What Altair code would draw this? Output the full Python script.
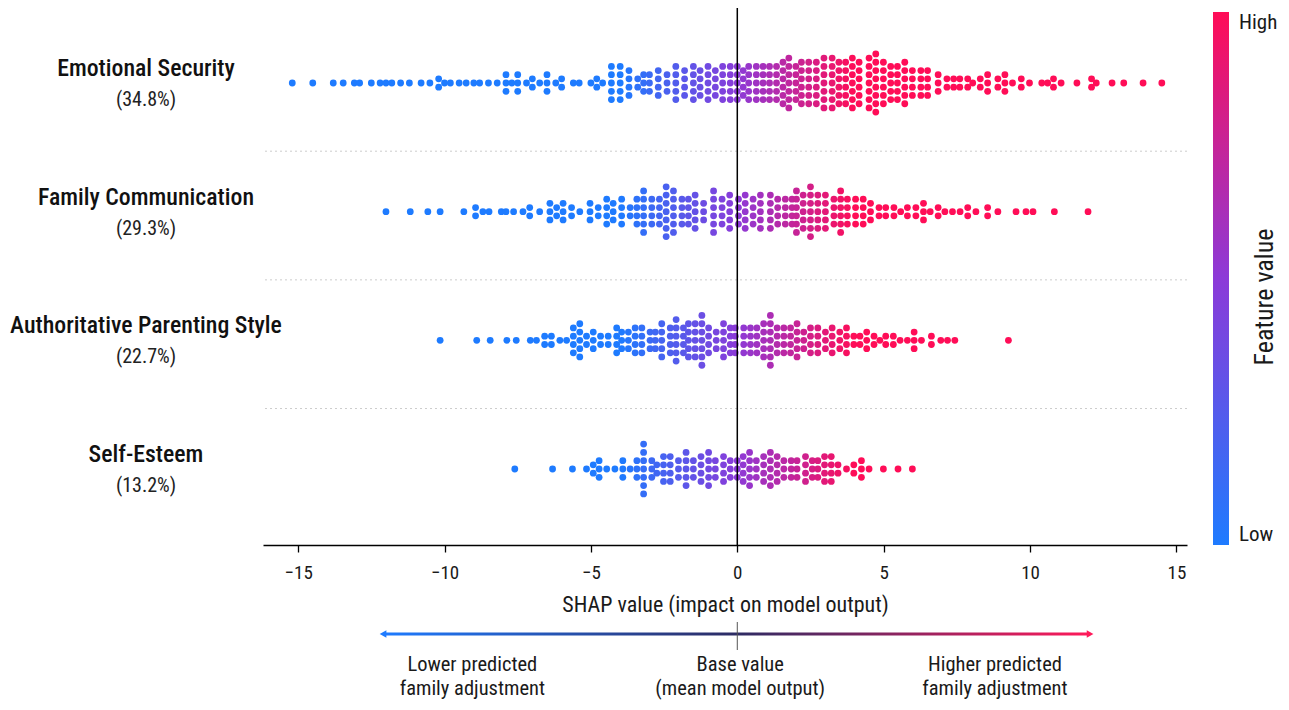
import altair as alt
import pandas as pd

# ---------------- data ----------------
FEATURES = ["Emotional Security", "Family Communication",
            "Authoritative Parenting Style", "Self-Esteem"]
SHARES = ["(34.8%)", "(29.3%)", "(22.7%)", "(13.2%)"]

# SHAP value of each dot column and number of dots stacked in it
ES_X = [-15.2, -14.5, -13.8, -13.46, -13.08, -12.9, -12.5, -12.2, -12.0, -11.8, -11.5, -11.2,
        -10.8, -10.5, -10.2, -10.0, -9.8, -9.5, -9.26, -9.0, -8.8, -8.5, -8.2, -7.9, -7.7, -7.5,
        -7.2, -7.0, -6.75, -6.5, -6.2, -6.0, -5.6, -5.4, -5.0, -4.8, -4.6, -4.3, -4.0, -3.7,
        -3.4, -3.2, -3.0, -2.7, -2.4, -2.1, -1.8, -1.5, -1.27, -1.0, -0.75, -0.5, -0.24,
        0.0, 0.2, 0.39, 0.65, 0.88, 1.1, 1.34, 1.56, 1.76, 2.0, 2.19, 2.44, 2.7, 2.96, 3.24,
        3.47, 3.7, 3.93, 4.16, 4.5, 4.73, 4.99, 5.24, 5.47, 5.72, 5.98, 6.27, 6.5, 6.86, 7.16,
        7.39, 7.6, 7.87, 8.04, 8.3, 8.55, 8.9, 9.14, 9.4, 9.7, 9.98, 10.4, 10.6, 10.8, 11.06,
        11.6, 12.1, 12.26, 12.8, 13.2, 13.86, 14.5]
ES_N = [1, 1, 1, 1, 1, 1, 1, 1, 1, 1, 1, 1,
        1, 1, 2, 1, 1, 1, 1, 1, 1, 1, 1, 3, 1, 3,
        1, 2, 1, 3, 1, 2, 1, 1, 1, 2, 1, 5, 5, 4,
        2, 3, 3, 4, 3, 5, 4, 5, 4, 5, 4, 5, 5,
        5, 4, 5, 5, 5, 5, 5, 6, 7, 5, 6, 6, 6, 7, 7,
        6, 6, 7, 6, 7, 8, 6, 5, 5, 6, 4, 4, 4, 3, 2,
        2, 2, 2, 1, 2, 3, 2, 3, 1, 2, 1, 1, 1, 2, 1,
        1, 2, 1, 1, 1, 1, 1]

FC_X = [-12.0, -11.17, -10.57, -10.15, -9.34, -8.94, -8.69, -8.48, -8.06, -7.9, -7.64, -7.32,
        -7.09, -6.75, -6.4, -6.17, -5.95, -5.66, -5.38, -5.03, -4.75, -4.46, -4.24, -3.95,
        -3.66, -3.43, -3.2, -2.92, -2.66, -2.43, -2.18, -1.89, -1.67, -1.44, -1.15, -0.81,
        -0.52, -0.26, 0.04, 0.27, 0.54, 0.79, 1.13, 1.38, 1.64, 1.87, 2.02, 2.25, 2.5, 2.75,
        3.01, 3.3, 3.53, 3.76, 4.04, 4.3, 4.55, 4.84, 5.07, 5.35, 5.58, 5.81, 6.1, 6.36, 6.59,
        6.86, 7.09, 7.35, 7.61, 7.87, 8.15, 8.55, 8.9, 9.52, 9.86, 10.1, 10.83, 11.98]
FC_N = [1, 1, 1, 1, 1, 2, 1, 1, 1, 1, 1, 1,
        2, 1, 3, 2, 3, 2, 1, 3, 2, 4, 3, 4,
        2, 4, 6, 4, 4, 7, 6, 4, 4, 5, 3, 6,
        4, 5, 4, 5, 4, 5, 5, 4, 4, 4, 6, 5, 7, 5,
        5, 4, 6, 4, 4, 4, 3, 2, 2, 2, 1, 2, 2, 3, 1,
        2, 1, 1, 1, 2, 1, 2, 1, 1, 1, 1, 1, 1]

AP_X = [-10.15, -8.9, -8.44, -7.87, -7.55, -7.07, -6.86, -6.58, -6.35, -6.06, -5.83, -5.6,
        -5.38, -5.15, -4.92, -4.67, -4.41, -4.12, -3.95, -3.72, -3.49, -3.26, -2.98, -2.8,
        -2.58, -2.29, -2.09, -1.84, -1.67, -1.44, -1.21, -0.98, -0.72, -0.47, -0.24, -0.07,
        0.22, 0.45, 0.67, 0.9, 1.13, 1.36, 1.59, 1.82, 2.04, 2.27, 2.5, 2.75, 3.01, 3.24, 3.5,
        3.73, 3.98, 4.19, 4.42, 4.67, 4.87, 5.07, 5.33, 5.56, 5.81, 6.04, 6.29, 6.63, 6.95,
        7.18, 7.43, 9.26]
AP_N = [1, 1, 1, 1, 1, 1, 1, 2, 2, 1, 1, 4,
        5, 2, 3, 2, 2, 4, 3, 3, 4, 4, 3, 3,
        5, 4, 6, 4, 5, 5, 7, 4, 3, 5, 4, 4,
        4, 4, 4, 5, 7, 4, 4, 4, 5, 3, 4, 4, 3, 4, 3,
        4, 2, 2, 3, 2, 1, 2, 2, 1, 1, 3, 1, 2, 1,
        1, 1, 1]

SE_X = [-7.6, -6.31, -5.63, -5.15, -4.92, -4.72, -4.46, -4.18, -3.91, -3.66, -3.43, -3.2,
        -2.92, -2.75, -2.52, -2.29, -2.01, -1.75, -1.5, -1.24, -0.98, -0.75, -0.47, -0.24,
        0.0, 0.2, 0.42, 0.65, 0.9, 1.13, 1.36, 1.59, 1.84, 2.04, 2.33, 2.56, 2.75, 2.98, 3.21,
        3.44, 3.73, 3.98, 4.24, 4.5, 4.99, 5.49, 5.98]
SE_N = [1, 1, 1, 1, 2, 3, 1, 1, 3, 1, 3, 7,
        3, 2, 4, 4, 3, 5, 3, 4, 5, 3, 4, 3,
        3, 4, 5, 3, 4, 5, 4, 3, 3, 3, 4, 3, 3, 4, 4,
        2, 1, 2, 3, 1, 1, 1, 1]

SERIES = [(ES_X, ES_N), (FC_X, FC_N), (AP_X, AP_N), (SE_X, SE_N)]

TICKS = [-15, -10, -5, 0, 5, 10, 15]
X_TITLE = "SHAP value (impact on model output)"
LEGEND_TITLE = "Feature value"
NOTE_POS = [-9.05, 0.1, 8.8]
NOTE_LINE1 = ["Lower predicted", "Base value", "Higher predicted"]
NOTE_LINE2 = ["family adjustment", "(mean model output)", "family adjustment"]
ARROW_FROM, ARROW_TO = -12.1, 12.05
COLOR_SPAN = 4.0   # SHAP value at which the dots reach the full low / high colour

# ---------------- styling / layout ----------------
FONT = "Liberation Sans Narrow, Roboto Condensed, Arial Narrow, Roboto, sans-serif"
BLUE, PURPLE, PINK = "#1e7bff", "#8c3ad8", "#ff0d57"
TXT = "#1a1a1a"
W, H = 924, 537
ROW_STEP_PX = 128.67
DOT_GAP = 8.3 / ROW_STEP_PX
X_DOMAIN = [-16.2, 15.36]
Y_DOMAIN = [-75 / ROW_STEP_PX, (H - 75) / ROW_STEP_PX]

xscale = alt.Scale(domain=X_DOMAIN, nice=False, zero=False)
yscale = alt.Scale(domain=Y_DOMAIN, nice=False, zero=False, reverse=True)

pts = []
for r, (xs, ns) in enumerate(SERIES):
    for x, n in zip(xs, ns):
        for k in range(n):
            pts.append({"feature": FEATURES[r], "shap": x,
                        "row": r + (k - (n - 1) / 2) * DOT_GAP})
points_df = pd.DataFrame(pts)

labels_df = pd.DataFrame({"name": FEATURES, "share": SHARES, "row": list(range(4))})
sep_df = pd.DataFrame({"row": [0.53, 1.53, 2.53]})
notes_df = pd.DataFrame({"pos": NOTE_POS, "l1": NOTE_LINE1, "l2": NOTE_LINE2})

separators = alt.Chart(sep_df).mark_rule(color="#cccccc", strokeDash=[2, 3], strokeWidth=1).encode(
    y=alt.Y("row:Q", scale=yscale, axis=None))

dots = alt.Chart(points_df).mark_circle(size=46, opacity=1).encode(
    x=alt.X("shap:Q", scale=xscale,
            axis=alt.Axis(values=TICKS, title=X_TITLE, grid=False, domainColor="black",
                          domainWidth=1.3, tickColor="black", tickWidth=1.3, tickSize=7,
                          labelFontSize=19, labelFont=FONT, labelColor=TXT,
                          labelPadding=11, titleFontSize=22, titleFont=FONT,
                          titleFontWeight="normal", titleColor=TXT, titlePadding=12)),
    y=alt.Y("row:Q", scale=yscale, axis=None),
    color=alt.Color("shap:Q",
                    scale=alt.Scale(domain=[-COLOR_SPAN, 0, COLOR_SPAN],
                                    range=[BLUE, PURPLE, PINK],
                                    clamp=True, interpolate="rgb"),
                    legend=alt.Legend(orient="none", legendX=950, legendY=4,
                                      direction="vertical", gradientLength=533,
                                      gradientThickness=16,
                                      values=[-COLOR_SPAN, COLOR_SPAN],
                                      labelExpr="datum.value > 0 ? 'High' : 'Low'",
                                      title=None, labelFontSize=21, labelFont=FONT,
                                      labelColor=TXT, labelOffset=10)),
)

zero_line = alt.Chart().mark_rule(color="black", strokeWidth=1.5).encode(x=alt.datum(0))

names = alt.Chart(labels_df).mark_text(font=FONT, fontSize=23.8, fontWeight=500, color="#111",
                                       align="center", baseline="middle", dy=-14).encode(
    x=alt.value(-117), y=alt.Y("row:Q", scale=yscale, axis=None), text="name:N")
shares = alt.Chart(labels_df).mark_text(font=FONT, fontSize=20, color="#222",
                                        align="center", baseline="middle", dy=17).encode(
    x=alt.value(-117), y=alt.Y("row:Q", scale=yscale, axis=None), text="share:N")

legend_title = alt.Chart().mark_text(font=FONT, fontSize=26, color=TXT, angle=270,
                                     align="center", baseline="middle").encode(
    x=alt.value(1002), y=alt.value(289), text=alt.datum(LEGEND_TITLE))

grad = alt.LinearGradient(gradient="linear", x1=0, x2=1, y1=0, y2=0,
                          stops=[alt.GradientStop(color=BLUE, offset=0),
                                 alt.GradientStop(color="#2d2b63", offset=0.5),
                                 alt.GradientStop(color="#ff1a5a", offset=1)])
arrow = alt.Chart().mark_rect(fill=grad).encode(
    x=alt.datum(ARROW_FROM), x2=alt.datum(ARROW_TO), y=alt.value(624.5), y2=alt.value(627.5))
head_l = alt.Chart().mark_point(shape="triangle-left", filled=True, size=60, opacity=1,
                                color=BLUE).encode(x=alt.datum(ARROW_FROM), y=alt.value(626))
head_r = alt.Chart().mark_point(shape="triangle-right", filled=True, size=60, opacity=1,
                                color="#ff1a5a").encode(x=alt.datum(ARROW_TO), y=alt.value(626))
base_tick = alt.Chart().mark_rule(color="#555555", strokeWidth=1).encode(
    x=alt.datum(0), y=alt.value(614), y2=alt.value(642))

note1 = alt.Chart(notes_df).mark_text(font=FONT, fontSize=20.5, color=TXT,
                                      align="center", baseline="middle").encode(
    x=alt.X("pos:Q", scale=xscale), y=alt.value(657), text="l1:N")
note2 = alt.Chart(notes_df).mark_text(font=FONT, fontSize=20.5, color=TXT,
                                      align="center", baseline="middle").encode(
    x=alt.X("pos:Q", scale=xscale), y=alt.value(681), text="l2:N")

chart = alt.layer(
    separators, dots, zero_line, names, shares, legend_title,
    arrow, head_l, head_r, base_tick, note1, note2
).properties(
    width=W, height=H,
    autosize=alt.AutoSizeParams(type="none"),
    padding={"left": 255, "top": 0, "right": 93, "bottom": 157},
).configure_view(strokeWidth=0)

chart.save("out.html", embed_options={"renderer": "svg", "actions": False})
